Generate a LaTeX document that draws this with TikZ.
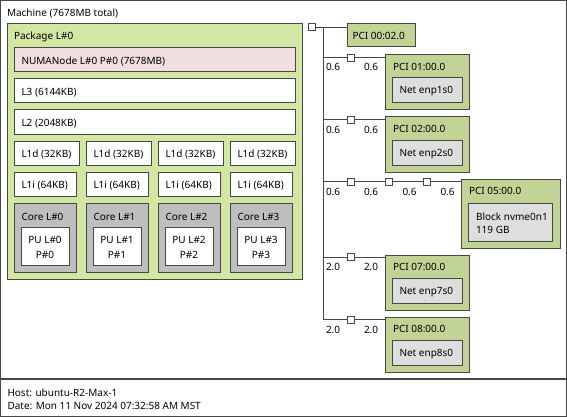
\documentclass[tikz,border=0pt]{standalone}
\usepackage{fontspec}
\setmainfont{Noto Sans}
\definecolor{pkgc}{RGB}{210,231,164}
\definecolor{pcic}{RGB}{194,211,150}
\definecolor{numac}{RGB}{239,223,222}
\definecolor{corec}{RGB}{190,190,190}
\definecolor{osc}{RGB}{222,222,222}
\definecolor{edgec}{RGB}{70,70,70}
\newcommand\mybox[6]{\node[box, fill=#6, minimum width=#4pt-#2pt, minimum height=#5pt-#3pt] (#1) at (#2,#3) {};}
\begin{document}
\begin{tikzpicture}[x=1pt,y=-1pt,
  font=\fontsize{10}{12}\selectfont,
  box/.style={draw=edgec, line width=1pt, inner sep=0pt, outer sep=0pt, anchor=north west},
  lbl/.style={anchor=base west, inner sep=0pt, outer sep=0pt},
  clbl/.style={anchor=base, inner sep=0pt, outer sep=0pt},
  sq/.style={draw=edgec, fill=white, line width=1pt, minimum size=7pt, inner sep=0pt, outer sep=0pt},
  ln/.style={draw=edgec, line width=1pt}]
\useasboundingbox (0,0) rectangle (567,417);
% machine and footer
\mybox{machine}{0.5}{0.5}{566.5}{378.5}{white}
\mybox{footer}{0.5}{379.5}{566.5}{416.5}{white}
\node[lbl] (tmachine) at (7,17) {Machine (7678MB total)};
\node[lbl] (thost) at (7.5,396) {Host: ubuntu-R2-Max-1};
\node[lbl] (tdate) at (7.5,409.3) {Date: Mon 11 Nov 2024 07:32:58 AM MST};
% package
\mybox{pkg}{7}{24}{302}{279}{pkgc}
\node[lbl] (tpkg) at (14,40) {Package L\#0};
\mybox{numa}{14}{48}{295}{72}{numac}
\node[lbl] (tnuma) at (21.5,65) {NUMANode L\#0 P\#0 (7678MB)};
\mybox{lthree}{14}{79}{295}{103}{white}
\node[lbl] (tlthree) at (21.5,95.5) {L3 (6144KB)};
\mybox{ltwo}{14}{110}{295}{134}{white}
\node[lbl] (tltwo) at (21.5,126.5) {L2 (2048KB)};
% L1d
\mybox{ldA}{14}{141}{79}{165}{white}
\mybox{ldB}{86}{141}{151}{165}{white}
\mybox{ldC}{158}{141}{223}{165}{white}
\mybox{ldD}{230}{141}{295}{165}{white}
\node[lbl] (tldA) at (21.5,157.5) {L1d (32KB)};
\node[lbl] (tldB) at (93.5,157.5) {L1d (32KB)};
\node[lbl] (tldC) at (165.5,157.5) {L1d (32KB)};
\node[lbl] (tldD) at (237.5,157.5) {L1d (32KB)};
% L1i
\mybox{liA}{14}{172}{76}{196}{white}
\mybox{liB}{86}{172}{148}{196}{white}
\mybox{liC}{158}{172}{220}{196}{white}
\mybox{liD}{230}{172}{292}{196}{white}
\node[lbl] (tliA) at (21.5,188.5) {L1i (64KB)};
\node[lbl] (tliB) at (93.5,188.5) {L1i (64KB)};
\node[lbl] (tliC) at (165.5,188.5) {L1i (64KB)};
\node[lbl] (tliD) at (237.5,188.5) {L1i (64KB)};
% cores
\mybox{coA}{14}{203}{76}{272}{corec}
\mybox{coB}{86}{203}{148}{272}{corec}
\mybox{coC}{158}{203}{220}{272}{corec}
\mybox{coD}{230}{203}{292}{272}{corec}
\node[lbl] (tcoA) at (21.5,220) {Core L\#0};
\node[lbl] (tcoB) at (93.5,220) {Core L\#1};
\node[lbl] (tcoC) at (165.5,220) {Core L\#2};
\node[lbl] (tcoD) at (237.5,220) {Core L\#3};
% PUs
\mybox{puA}{21}{227}{69}{265}{white}
\mybox{puB}{93}{227}{141}{265}{white}
\mybox{puC}{165}{227}{213}{265}{white}
\mybox{puD}{237}{227}{285}{265}{white}
\node[clbl] (tpuA) at (45,243.3) {PU L\#0};
\node[clbl] (tpuAp) at (45,258) {P\#0};
\node[clbl] (tpuB) at (117,243.3) {PU L\#1};
\node[clbl] (tpuBp) at (117,258) {P\#1};
\node[clbl] (tpuC) at (189,243.3) {PU L\#2};
\node[clbl] (tpuCp) at (189,258) {P\#2};
\node[clbl] (tpuD) at (261,243.3) {PU L\#3};
\node[clbl] (tpuDp) at (261,258) {P\#3};
% PCI boxes
\mybox{pcizero}{347}{24}{415}{47}{pcic}
\node[lbl] (tpcizero) at (352.5,40) {PCI 00:02.0};
\mybox{pcione}{385}{55}{469}{110}{pcic}
\node[lbl] (tpcione) at (393,70.7) {PCI 01:00.0};
\mybox{netone}{392}{78}{462}{103}{osc}
\node[lbl] (tnetone) at (399.5,94) {Net enp1s0};
\mybox{pcitwo}{385}{117}{469}{172}{pcic}
\node[lbl] (tpcitwo) at (393,132.7) {PCI 02:00.0};
\mybox{nettwo}{392}{140}{462}{165}{osc}
\node[lbl] (tnettwo) at (399.5,156) {Net enp2s0};
\mybox{pcifive}{461}{179}{560}{248}{pcic}
\node[lbl] (tpcifive) at (469,194.7) {PCI 05:00.0};
\mybox{blk}{468}{203}{552}{241}{osc}
\node[lbl] (tblk) at (476,220.5) {Block nvme0n1};
\node[lbl] (tblkb) at (476,233.5) {119 GB};
\mybox{pciseven}{385}{255}{469}{310}{pcic}
\node[lbl] (tpciseven) at (393,270.7) {PCI 07:00.0};
\mybox{netseven}{392}{278}{462}{303}{osc}
\node[lbl] (tnetseven) at (399.5,294) {Net enp7s0};
\mybox{pcieight}{385}{317}{469}{372}{pcic}
\node[lbl] (tpcieight) at (393,332.7) {PCI 08:00.0};
\mybox{neteight}{392}{340}{462}{365}{osc}
\node[lbl] (tneteight) at (399.5,356) {Net enp8s0};
% bridge squares
\node[sq] (s0) at (312,27.5) {};
\node[sq] (s1) at (350.5,57.7) {};
\node[sq] (s2) at (350.5,119.7) {};
\node[sq] (s5a) at (350.5,181.7) {};
\node[sq] (s5b) at (388.5,181.7) {};
\node[sq] (s5c) at (426.5,181.7) {};
\node[sq] (s7) at (350.5,257) {};
\node[sq] (s8) at (350.5,319.7) {};
% trunk coordinates
\coordinate (t0) at (323,27.5);
\coordinate (t1) at (323,57.7);
\coordinate (t2) at (323,119.7);
\coordinate (t5) at (323,181.7);
\coordinate (t7) at (323,257);
\coordinate (t8) at (323,319.7);
% connectors
\draw[ln] (s0.east) -- (s0 -| pcizero.west);
\draw[ln] (t0) -- (t8);
\draw[ln] (t1) -- (s1.west) (s1.east) -- (s1 -| pcione.west);
\draw[ln] (t2) -- (s2.west) (s2.east) -- (s2 -| pcitwo.west);
\draw[ln] (t5) -- (s5a.west) (s5a.east) -- (s5b.west) (s5b.east) -- (s5c.west) (s5c.east) -- (s5c -| pcifive.west);
\draw[ln] (t7) -- (s7.west) (s7.east) -- (s7 -| pciseven.west);
\draw[ln] (t8) -- (s8.west) (s8.east) -- (s8 -| pcieight.west);
% link speed labels
\node[lbl] (a1) at (326,71) {0.6};
\node[lbl] (b1) at (364,71) {0.6};
\node[lbl] (a2) at (326,133) {0.6};
\node[lbl] (b2) at (364,133) {0.6};
\node[lbl] (a5) at (326,195) {0.6};
\node[lbl] (b5) at (364,195) {0.6};
\node[lbl] (c5) at (402.5,195) {0.6};
\node[lbl] (d5) at (440.5,195) {0.6};
\node[lbl] (a7) at (326,270.3) {2.0};
\node[lbl] (b7) at (364,270.3) {2.0};
\node[lbl] (a8) at (326,333) {2.0};
\node[lbl] (b8) at (364,333) {2.0};
\end{tikzpicture}
\end{document}
